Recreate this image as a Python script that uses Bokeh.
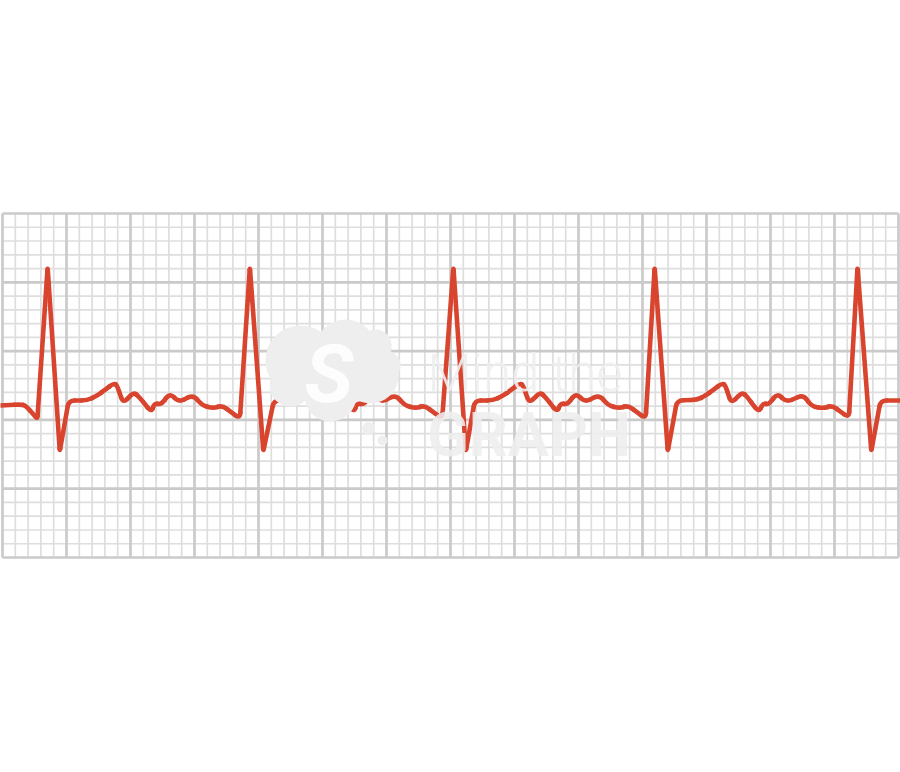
import numpy as np
from bokeh.plotting import figure
from bokeh.models import Range1d
from bokeh.core.properties import value
from bokeh.embed import file_html
from bokeh.resources import INLINE

# ---- ECG trace, time in seconds, voltage in mV ----
beat1_t = [-0.006, 0.056, 0.072, 0.109, 0.141, 0.179, 0.207, 0.265, 0.296, 0.322, 0.348, 0.358,
           0.377, 0.410, 0.428, 0.465, 0.475, 0.496, 0.523, 0.551, 0.596, 0.624, 0.659, 0.687, 0.742]
beat1_mv = [0.105, 0.112, 0.105, 0.008, 1.108, -0.227, 0.141, 0.141, 0.177, 0.221, 0.267, 0.250,
            0.121, 0.201, 0.165, 0.056, 0.121, 0.112, 0.194, 0.129, 0.182, 0.105, 0.085, 0.105, 0.008]

beat2_t = [0.773, 0.815, 0.848, 0.910, 0.929, 0.955, 0.981, 0.991, 1.010, 1.043, 1.061, 1.098,
           1.108, 1.129, 1.156, 1.184, 1.229, 1.257, 1.292, 1.319, 1.374]
beat2_mv = [1.108, -0.227, 0.141, 0.146, 0.177, 0.221, 0.267, 0.250, 0.121, 0.201, 0.165, 0.056,
            0.121, 0.112, 0.194, 0.129, 0.182, 0.105, 0.085, 0.105, 0.008]

beat3_t = [1.409, 1.448, 1.476, 1.533, 1.565, 1.591, 1.617, 1.627, 1.646, 1.680, 1.697, 1.733,
           1.744, 1.765, 1.792, 1.820, 1.865, 1.893, 1.928, 1.955, 2.010]
beat3_mv = [1.108, -0.227, 0.141, 0.141, 0.177, 0.221, 0.267, 0.250, 0.121, 0.201, 0.165, 0.056,
            0.121, 0.112, 0.194, 0.129, 0.182, 0.105, 0.085, 0.105, 0.008]

beat4_t = [2.038, 2.079, 2.108, 2.171, 2.197, 2.223, 2.249, 2.259, 2.277, 2.312, 2.328, 2.363,
           2.377, 2.395, 2.421, 2.450, 2.502, 2.530, 2.567, 2.593, 2.645]
beat4_mv = [1.108, -0.227, 0.141, 0.146, 0.177, 0.221, 0.267, 0.250, 0.121, 0.201, 0.165, 0.056,
            0.121, 0.112, 0.194, 0.129, 0.182, 0.097, 0.085, 0.105, 0.015]

beat5_t = [2.672, 2.715, 2.744, 2.806]
beat5_mv = [1.108, -0.227, 0.141, 0.141]

# ---- ECG paper ----
paper_seconds = 2.8       # 14 large squares of 0.2 s
small_t = 0.04            # one small square, s
paper_mv_min = -1.0
paper_mv_max = 1.5
small_mv = 0.1            # one small square, mV

ecg_t = beat1_t + beat2_t + beat3_t + beat4_t + beat5_t
ecg_mv = beat1_mv + beat2_mv + beat3_mv + beat4_mv + beat5_mv

W, H = 900, 772
x0r, x1r = -0.00625, 2.80625
y0r, y1r = -2.5625, 3.048
p = figure(width=W, height=H, output_backend="svg", toolbar_location=None,
           x_axis_location=None, y_axis_location=None,
           x_range=Range1d(x0r, x1r), y_range=Range1d(y0r, y1r),
           min_border=0, outline_line_color=None, background_fill_color="white",
           border_fill_color="white")
p.grid.visible = False

n_t = int(round(paper_seconds / small_t))
n_v = int(round((paper_mv_max - paper_mv_min) / small_mv))
kt = np.arange(n_t + 1)
kv = np.arange(n_v + 1)
tx = kt * small_t
vy = paper_mv_min + kv * small_mv

minor_t = tx[kt % 5 != 0]
major_t = tx[kt % 5 == 0]
minor_v = vy[kv % 5 != 0]
major_v = vy[kv % 5 == 0]

minor_col, major_col = "#dedede", "#cacaca"
p.segment(x0=minor_t, x1=minor_t, y0=paper_mv_min, y1=paper_mv_max,
          line_color=minor_col, line_width=1.7)
p.segment(x0=0, x1=paper_seconds, y0=minor_v, y1=minor_v,
          line_color=minor_col, line_width=1.7)
p.segment(x0=major_t, x1=major_t, y0=paper_mv_min, y1=paper_mv_max,
          line_color=major_col, line_width=2.7)
p.segment(x0=0, x1=paper_seconds, y0=major_v, y1=major_v,
          line_color=major_col, line_width=2.7)

# ---- trace drawn as a polyline with slightly rounded corners ----
sx = W / (x1r - x0r)          # px per second
sy = H / (y1r - y0r)          # px per mV
X = np.asarray(ecg_t) * sx
Y = np.asarray(ecg_mv) * sy
p1x, p1y, p2x, p2y, cx, cy = [], [], [], [], [], []
for i in range(1, len(X) - 1):
    ax_, ay_ = X[i - 1] - X[i], Y[i - 1] - Y[i]
    bx_, by_ = X[i + 1] - X[i], Y[i + 1] - Y[i]
    la, lb = np.hypot(ax_, ay_), np.hypot(bx_, by_)
    cosang = (ax_ * bx_ + ay_ * by_) / (la * lb)
    r = 2.5 if cosang > 0.7 else 6.0      # keep the sharp R/S tips pointed
    ra, rb = min(r, 0.45 * la), min(r, 0.45 * lb)
    p1x.append(X[i] + ax_ / la * ra); p1y.append(Y[i] + ay_ / la * ra)
    p2x.append(X[i] + bx_ / lb * rb); p2y.append(Y[i] + by_ / lb * rb)
    cx.append(X[i]); cy.append(Y[i])
seg_x0 = [X[0]] + p2x
seg_y0 = [Y[0]] + p2y
seg_x1 = p1x + [X[-1]]
seg_y1 = p1y + [Y[-1]]

red = "#d9442f"
lw = 4.6
p.segment(x0=np.array(seg_x0) / sx, y0=np.array(seg_y0) / sy,
          x1=np.array(seg_x1) / sx, y1=np.array(seg_y1) / sy,
          line_color=red, line_width=lw, line_cap="round")
p.quadratic(x0=np.array(p1x) / sx, y0=np.array(p1y) / sy,
            x1=np.array(p2x) / sx, y1=np.array(p2y) / sy,
            cx=np.array(cx) / sx, cy=np.array(cy) / sy,
            line_color=red, line_width=lw, line_cap="round")

# ---- watermark ----
wm_col = "#eeeeee"
blob_t = [0.931, 1.072, 1.150, 1.025, 0.900, 1.041, 1.166, 1.197, 0.880, 0.960]
blob_mv = [0.432, 0.504, 0.323, 0.177, 0.250, 0.344, 0.541, 0.395, 0.380, 0.560]
blob_d = [70, 62, 56, 52, 42, 72, 32, 30, 34, 30]
p.scatter(blob_t, blob_mv, size=blob_d, fill_color=wm_col, line_color=None, fill_alpha=1.0)
dot_t = [1.144, 1.1875]
dot_mv = [-0.0625, -0.150]
dot_d = [13, 10]
p.scatter(dot_t, dot_mv, size=dot_d, fill_color=wm_col, line_color=None, fill_alpha=1.0)
p.text(x=[1.02], y=[0.33], text=["S"], text_font=value("Roboto"), text_font_style="bold italic",
       text_font_size="82px", text_color="white", text_alpha=0.85,
       text_baseline="middle", text_align="center")

p.text(x=[1.328], y=[0.336], text=["Mind the"], text_font=value("Roboto Light"),
       text_font_size="51px", text_color=wm_col, text_alpha=0.9,
       text_baseline="alphabetic", text_align="left")
p.text(x=[1.327], y=[-0.113], text=["GRAPH"], text_font=value("Roboto"),
       text_font_style="bold", text_font_size="61px", text_color=wm_col, text_alpha=0.88,
       text_baseline="alphabetic", text_align="left")

open("out.html", "w").write(file_html(p, INLINE))
